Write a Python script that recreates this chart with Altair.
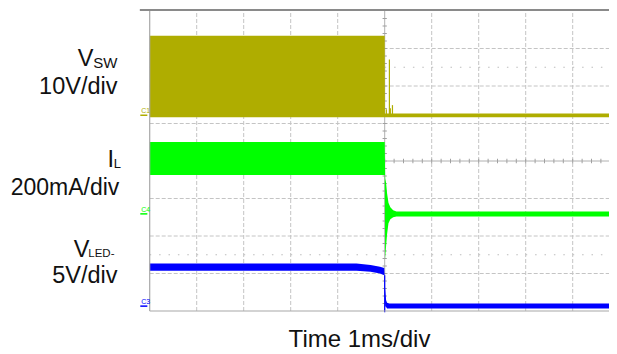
import altair as alt
import pandas as pd

# ---------------- data (read from the scope capture) ----------------
# time axis: 1 ms/div, trigger at the centre (t = 0 ms)
# C1  V_SW   10 V/div
vsw_t = [-5.0, 0.0, 0.005, 5.2]
vsw_hi = [21.2, 21.2, 0.5, 0.5]
vsw_lo = [-0.5, -0.5, -0.5, -0.5]
vsw_spike_t = [0.035, 0.10, 0.12, 0.165]
vsw_spike_v = [1.6, 14.9, 1.9, 2.7]

# C4  I_L   200 mA/div
il_t = [-5.0, 0.0, 0.01, 0.03, 0.05, 0.08, 0.12, 0.18, 0.25, 5.2]
il_hi = [384, 384, 190, 165, 110, 60, 36, 20, 13, 13]
il_lo = [208, 208, -245, -170, -110, -50, -28, -18, -14, -14]

# C3  V_LED-   5 V/div
vled_t = [-5.0, -0.6, -0.3, -0.1, -0.01, 0.01, 0.03, 0.05, 0.1, 5.2]
vled_hi = [5.69, 5.69, 5.47, 5.24, 5.07, 2.2, 0.8, 0.45, 0.36, 0.36]
vled_lo = [4.71, 4.71, 4.57, 4.36, 4.13, 0.0, -0.1, -0.3, -0.3, -0.3]
vled_spike_t = [0.0]
vled_spike_hi = [4.13]
vled_spike_lo = [-0.8]

channels = ["C1", "C4", "C3"]
ch_colors = ["#AFAD00", "#00FF00", "#0000FF"]
ch_per_div = [10.0, 200.0, 5.0]      # units per division
ch_ground_div = [5.22, 2.59, 0.13]   # ground marker position (div from bottom)

x_ticks = [-4, -3, -2, -1, 1, 2, 3, 4]
y_grid = [1, 2, 3, 5, 6, 7]
y_dotted = [1.5, 6.5]

label_texts = ["V", "SW", "10V/div", "I", "L", "200mA/div", "V", "LED-", "5V/div"]
time_label = "Time 1ms/div"

# ---------------- helpers ----------------
xs = alt.Scale(domain=[-5, 5], range=[141.7, 611.7], nice=False, zero=False)
ys = alt.Scale(domain=[0, 8], range=[303, 3], nice=False, zero=False)


def X(f):
    return alt.X(f, type="quantitative", scale=xs, axis=None)


def X2(f):
    return alt.X2(f)


def Y(f):
    return alt.Y(f, type="quantitative", scale=ys, axis=None)


def Y2(f):
    return alt.Y2(f)


def scaled(ch, vals):
    k = channels.index(ch)
    return [ch_ground_div[k] + v / ch_per_div[k] for v in vals]


color = alt.Color("ch:N", scale=alt.Scale(domain=channels, range=ch_colors), legend=None)

trace_layers = []
for ch, tt, lo, hi in [("C1", vsw_t, vsw_lo, vsw_hi),
                       ("C4", il_t, il_lo, il_hi),
                       ("C3", vled_t, vled_lo, vled_hi)]:
    df = pd.DataFrame({"t": tt, "ylo": scaled(ch, lo), "yhi": scaled(ch, hi)})
    trace_layers.append(
        alt.Chart(df).mark_area(color=ch_colors[channels.index(ch)], opacity=1).encode(
            x=X("t"), y=Y("yhi"), y2=Y2("ylo")))

spikes = pd.DataFrame(
    [{"ch": "C1", "t": t, "ylo": scaled("C1", [0])[0], "yhi": scaled("C1", [v])[0]}
     for t, v in zip(vsw_spike_t, vsw_spike_v)]
    + [{"ch": "C3", "t": t, "ylo": scaled("C3", [lo])[0], "yhi": scaled("C3", [hi])[0]}
       for t, hi, lo in zip(vled_spike_t, vled_spike_hi, vled_spike_lo)]
)

# ---------------- graticule ----------------
gv = pd.DataFrame({"t": x_ticks, "y0": 0, "y1": 8})
grid_v = alt.Chart(gv).mark_rule(color="#c4c4c4", strokeDash=[4, 2], strokeWidth=1).encode(
    x=X("t"), y=Y("y0"), y2=Y2("y1"))

gh = pd.DataFrame({"y": y_grid, "x0": -5, "x1": 5.2})
grid_h = alt.Chart(gh).mark_rule(color="#c4c4c4", strokeDash=[4, 2], strokeWidth=1).encode(
    y=Y("y"), x=X("x0"), x2=X2("x1"))

gd = pd.DataFrame({"y": y_dotted, "x0": -5, "x1": 5.2})
grid_d = alt.Chart(gd).mark_rule(color="#bdbdbd", strokeDash=[1.5, 7.9], strokeWidth=1.2).encode(
    y=Y("y"), x=X("x0"), x2=X2("x1"))

cv = pd.DataFrame({"t": [0], "y0": [0], "y1": [8]})
centre_v = alt.Chart(cv).mark_rule(color="#b0b0b0", strokeWidth=1).encode(
    x=X("t"), y=Y("y0"), y2=Y2("y1"))
ch_ = pd.DataFrame({"y": [4], "x0": [-5], "x1": [5.2]})
centre_h = alt.Chart(ch_).mark_rule(color="#b0b0b0", strokeWidth=1).encode(
    y=Y("y"), x=X("x0"), x2=X2("x1"))

tick_h = pd.DataFrame({"t": [-5 + 0.2 * k for k in range(1, 50)]})
tick_h["y0"] = 4 - 0.06
tick_h["y1"] = 4 + 0.06
ticks_h = alt.Chart(tick_h).mark_rule(color="#a0a0a0", strokeWidth=1).encode(
    x=X("t"), y=Y("y0"), y2=Y2("y1"))

tick_v = pd.DataFrame({"y": [0.2 * k for k in range(1, 40)]})
tick_v["x0"] = -0.045
tick_v["x1"] = 0.045
ticks_v = alt.Chart(tick_v).mark_rule(color="#a0a0a0", strokeWidth=1).encode(
    y=Y("y"), x=X("x0"), x2=X2("x1"))

bl = pd.DataFrame({"t": [-5], "y0": [0], "y1": [8]})
border_l = alt.Chart(bl).mark_rule(color="#a8a8a8", strokeWidth=1.2).encode(
    x=X("t"), y=Y("y0"), y2=Y2("y1"))
bb = pd.DataFrame({"y": [0], "x0": [-5], "x1": [5.2]})
border_b = alt.Chart(bb).mark_rule(color="#a8a8a8", strokeWidth=1.2).encode(
    y=Y("y"), x=X("x0"), x2=X2("x1"))
bt = pd.DataFrame({"y": [8.03], "x0": [-5.21], "x1": [5.2]})
border_t = alt.Chart(bt).mark_rule(color="#8a8a8a", strokeWidth=2).encode(
    y=Y("y"), x=X("x0"), x2=X2("x1"))

spike_rules = alt.Chart(spikes).mark_rule(strokeWidth=1.2).encode(
    x=X("t"), y=Y("ylo"), y2=Y2("yhi"), color=color)

# ground markers
gm = pd.DataFrame({"ch": channels, "y": ch_ground_div, "x0": -5.2, "x1": -5.05})
gm_lines = alt.Chart(gm).mark_rule(strokeWidth=1.5).encode(
    y=Y("y"), x=X("x0"), x2=X2("x1"), color=color)
gm_text = alt.Chart(gm).mark_text(align="left", baseline="alphabetic", fontSize=7,
                                  font="Liberation Sans", dx=1, dy=-2).encode(
    y=Y("y"), x=X("x0"), text="ch:N", color=color)

# ---------------- labels ----------------
label_style = [
    # (x px, y px baseline, font size)
    (85.5, 58.0, 23.5),
    (109.5, 59.5, 15),
    (109.5, 86.0, 23.5),
    (106.0, 158.7, 23.5),
    (113.0, 159.7, 13),
    (111.3, 186.5, 23),
    (81.5, 248.7, 23.5),
    (106.5, 249.3, 11.5),
    (109.5, 275.3, 23.5),
]
label_layers = []
for txt, (lx, ly, fs) in zip(label_texts, label_style):
    label_layers.append(
        alt.Chart(pd.DataFrame({"txt": [txt]})).mark_text(
            align="right", baseline="alphabetic", fontSize=fs, font="Liberation Sans",
            color="#111111").encode(x=alt.value(lx), y=alt.value(ly), text="txt:N"))

time_text = alt.Chart(pd.DataFrame({"txt": [time_label]})).mark_text(
    align="center", baseline="alphabetic", fontSize=24, font="Liberation Sans",
    color="#111111").encode(x=alt.value(351.5), y=alt.value(339.3), text="txt:N")

chart = alt.layer(
    grid_v, grid_h, grid_d, centre_v, centre_h, ticks_h, ticks_v,
    *trace_layers, spike_rules,
    border_l, border_b, border_t, gm_lines, gm_text,
    *label_layers, time_text,
).properties(
    width=601, height=344, autosize=alt.AutoSizeParams(type="none"), padding=0,
    background="white",
).configure_view(stroke=None, strokeWidth=0, fill="white")

chart.save("out.html", embed_options={"renderer": "svg", "actions": False})
